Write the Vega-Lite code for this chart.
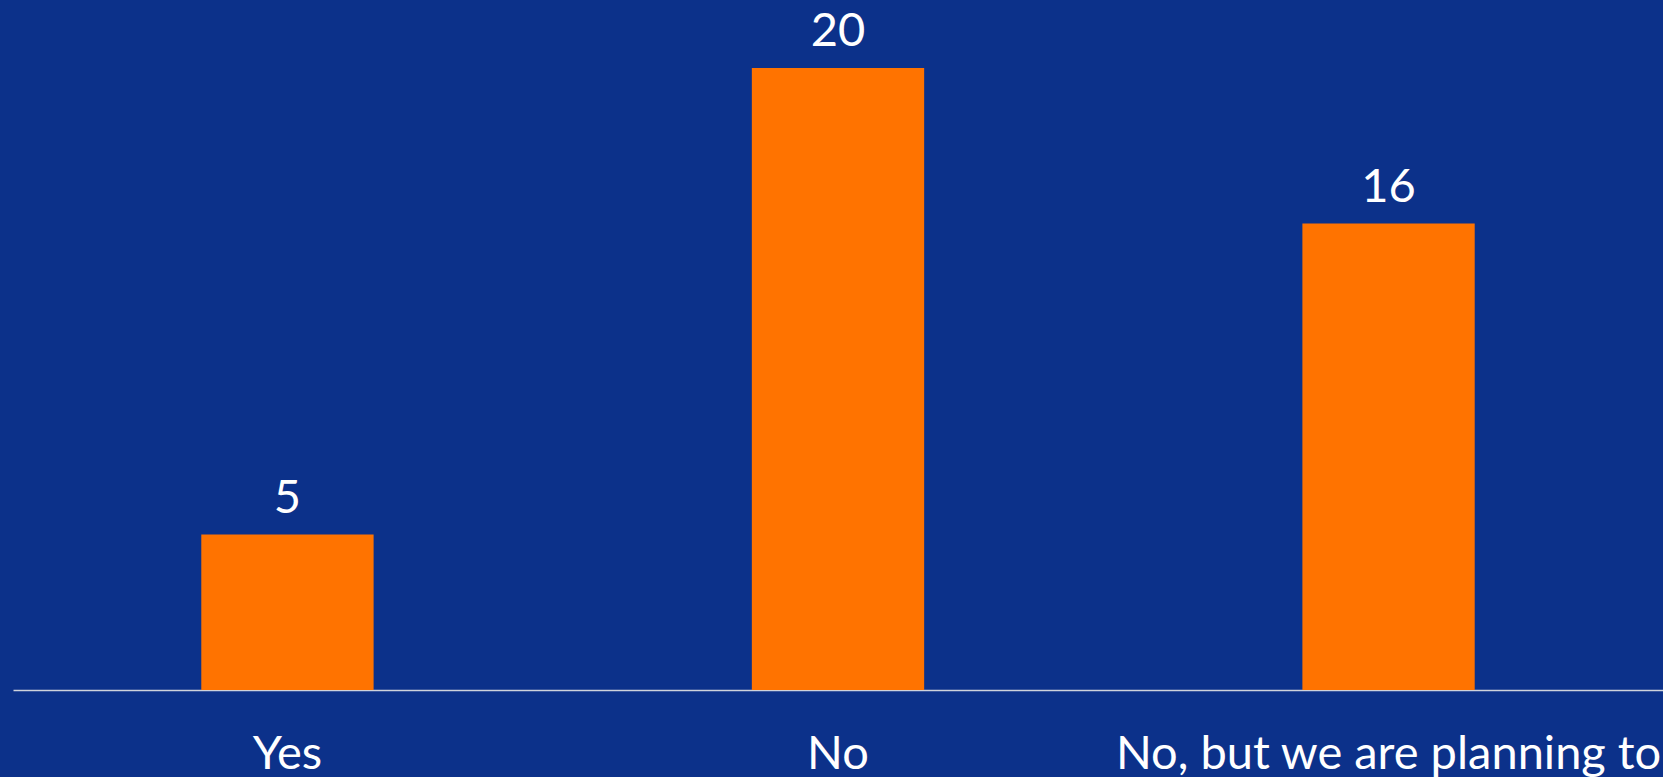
{
  "$schema": "https://vega.github.io/schema/vega-lite/v6.json",
  "width": 1650,
  "height": 622,
  "autosize": "none",
  "padding": {"left": 13, "top": 68, "right": 0, "bottom": 87},
  "background": "#0c318a",
  "config": {"view": {"stroke": null}, "font": "Lato"},
  "data": {
    "values": [
      {"answer": "Yes", "count": 5, "label": "5"},
      {"answer": "No", "count": 20, "label": "20"},
      {"answer": "No, but we are planning to", "count": 15, "label": "16"}
    ]
  },
  "encoding": {
    "x": {
      "field": "answer",
      "type": "nominal",
      "sort": null,
      "scale": {"paddingInner": 0.687, "paddingOuter": 0.342},
      "axis": {
        "title": null,
        "labelAngle": 0,
        "labelFontSize": 47,
        "labelColor": "#ffffff",
        "labelFont": "Lato",
        "labelBaseline": "alphabetic",
        "labelPadding": 78,
        "ticks": false,
        "tickSize": 0,
        "domainColor": "#cfd3dc",
        "domainWidth": 1.5,
        "grid": false,
        "labelLimit": 0,
        "labelOverlap": false
      }
    }
  },
  "layer": [
    {
      "mark": {"type": "bar", "color": "#ff7300"},
      "encoding": {
        "y": {"field": "count", "type": "quantitative", "scale": {"domain": [0, 20]}, "axis": null}
      }
    },
    {
      "mark": {"type": "text", "color": "#ffffff", "fontSize": 47, "font": "Lato", "baseline": "alphabetic", "dy": -22},
      "encoding": {
        "y": {"field": "count", "type": "quantitative"},
        "text": {"field": "label"}
      }
    }
  ]
}
